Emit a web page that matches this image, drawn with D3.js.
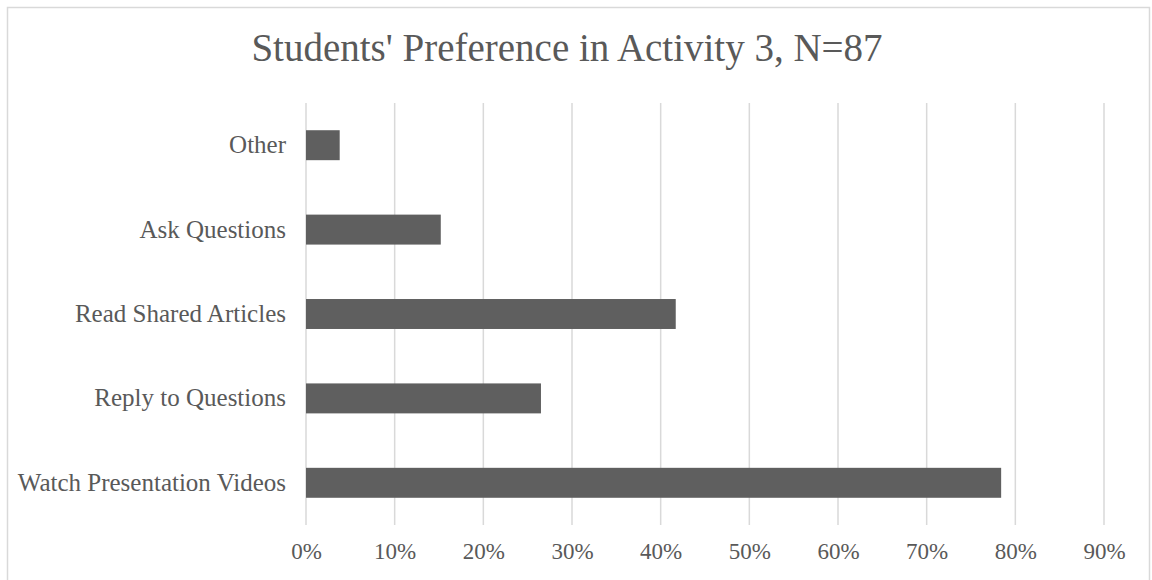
<!DOCTYPE html>
<meta charset="utf-8">
<html lang="en">
<head>
	<title>Students' Preference in Activity 3</title>
	<script src="https://d3js.org/d3.v7.min.js" charset="utf-8"></script>
	<style>
		body { margin: 0; background: #fff; }
	</style>
</head>
<body>
	<script>
var categories = ["Other", "Ask Questions", "Read Shared Articles", "Reply to Questions", "Watch Presentation Videos"];
var values = [0.038, 0.152, 0.417, 0.265, 0.784];
var ticks = [0, 0.1, 0.2, 0.3, 0.4, 0.5, 0.6, 0.7, 0.8, 0.9];
var title = "Students' Preference in Activity 3, N=87";

var width = 1152,
    height = 580;

var font = "'Liberation Serif', 'DejaVu Serif', serif";
var textColor = "#595959";

var margin = {top: 103, right: 48, bottom: 55, left: 306};

var svg = d3.select("body").append("svg")
    .attr("width", width)
    .attr("height", height);

// chart border
svg.append("rect")
    .attr("x", 7.5)
    .attr("y", 7.5)
    .attr("width", 1142)
    .attr("height", 590)
    .style("fill", "none")
    .style("stroke", "#d9d9d9")
    .style("stroke-width", 1.5);

var x = d3.scaleLinear()
    .domain([0, 0.9])
    .range([margin.left, 1104]);

var y = d3.scaleBand()
    .domain(categories)
    .range([margin.top, height - margin.bottom])
    .paddingInner(0.645)
    .paddingOuter(0.3225);

// gridlines
svg.append("g")
    .attr("class", "grid")
  .selectAll("line")
    .data(ticks)
  .enter().append("line")
    .attr("x1", function(d) { return x(d); })
    .attr("x2", function(d) { return x(d); })
    .attr("y1", margin.top)
    .attr("y2", height - margin.bottom)
    .style("stroke", "#d9d9d9")
    .style("stroke-width", 1.5);

// bars
svg.append("g")
  .selectAll("rect")
    .data(values)
  .enter().append("rect")
    .attr("x", x(0))
    .attr("y", function(d, i) { return y(categories[i]); })
    .attr("width", function(d) { return x(d) - x(0); })
    .attr("height", y.bandwidth())
    .style("fill", "#5f5f5f");

// x axis labels
var xAxis = d3.axisBottom(x)
    .tickValues(ticks)
    .tickFormat(d3.format(".0%"))
    .tickSize(0)
    .tickPadding(0);

svg.append("g")
    .attr("transform", "translate(0," + (height - 37) + ")")
    .call(xAxis)
    .call(function(g) { g.select(".domain").remove(); })
    .selectAll("text")
    .style("font-family", font)
    .style("fill", textColor)
    .style("font-size", "23px")
    .attr("dy", "0.71em");

// y axis labels
var yAxis = d3.axisLeft(y)
    .tickSize(0)
    .tickPadding(20);

svg.append("g")
    .attr("transform", "translate(" + margin.left + ",0)")
    .call(yAxis)
    .call(function(g) { g.select(".domain").remove(); })
    .selectAll("text")
    .style("font-family", font)
    .style("fill", textColor)
    .style("font-size", "25px");

// title
svg.append("text")
    .attr("x", 567)
    .attr("y", 61)
    .attr("text-anchor", "middle")
    .style("font-family", font)
    .style("fill", textColor)
    .style("font-size", "39px")
    .text(title);
	</script>
</body>
</html>
